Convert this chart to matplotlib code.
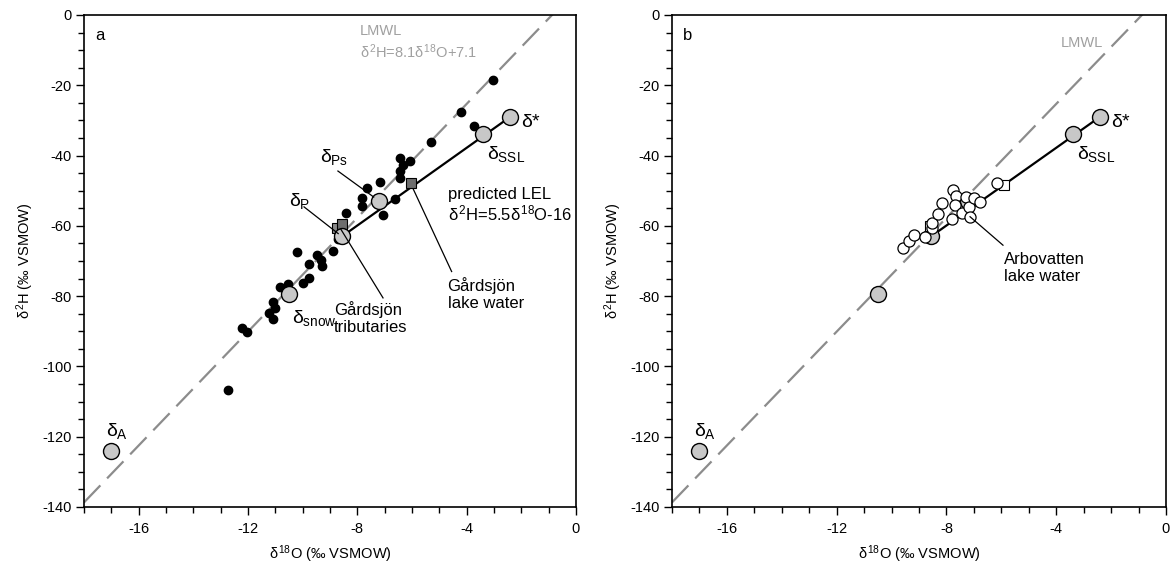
import matplotlib
matplotlib.use("Agg")
import matplotlib.pyplot as plt
from matplotlib.ticker import MultipleLocator
import numpy as np

plt.rcParams['font.family'] = ['Liberation Sans', 'DejaVu Sans']
plt.rcParams['lines.scale_dashes'] = False
plt.rcParams['mathtext.fontset'] = 'custom'
plt.rcParams['mathtext.rm'] = 'Liberation Sans'
plt.rcParams['mathtext.it'] = 'Liberation Sans'

# ---------------- data ----------------
# Gårdsjön tributaries (panel a, black dots)
trib_d18O = [-12.72, -12.23, -12.05, -11.22, -11.07, -11.01, -11.07, -10.83, -10.52,
             -10.19, -10.00, -9.76, -9.76, -9.49, -9.33, -9.30, -8.88, -8.72, -8.41,
             -7.83, -7.83, -7.65, -7.17, -7.06, -6.62, -6.44, -6.07, -6.33, -6.44,
             -6.44, -5.32, -4.22, -3.73, -3.03]
trib_d2H = [-106.7, -89.0, -90.2, -84.9, -86.4, -83.5, -81.6, -77.5, -76.6,
            -67.4, -76.4, -74.9, -70.9, -68.4, -69.7, -71.4, -67.1, -63.8, -56.3,
            -52.1, -54.4, -49.1, -47.5, -56.9, -52.4, -40.7, -41.5, -42.7, -44.4,
            -46.4, -36.0, -27.5, -31.6, -18.5]

# Arbovatten lake water (panel b, open circles)
arbo_d18O = [-9.59, -9.37, -9.19, -8.78, -8.54, -8.54, -8.30, -8.17, -7.77, -7.67,
             -7.70, -7.78, -7.44, -7.30, -7.19, -7.15, -6.99, -6.78, -6.17]
arbo_d2H = [-66.4, -64.2, -62.5, -63.1, -60.7, -59.1, -56.6, -53.5, -49.9, -51.5,
            -54.1, -58.1, -56.2, -51.8, -54.6, -57.5, -52.2, -53.1, -47.9]

# reference isotope end-members
dA = (-17.0, -124.0)
dsnow = (-10.5, -79.5)
dP = (-8.56, -63.0)
dPs = (-7.22, -52.8)
dSSL = (-3.40, -34.0)
dstar = (-2.41, -29.0)

# mean values (squares)
gard_trib = (-8.74, -60.6)
gard_lake = (-6.04, -47.8)
arbo_trib = (-8.6, -60.0)
arbo_lake = (-5.9, -48.3)

# Local meteoric water line
lmwl_slope, lmwl_int = 8.1, 7.1
lmwl_x = [-18.0, 0.0]

xticks = [-16, -12, -8, -4, 0]
yticks = [0, -20, -40, -60, -80, -100, -120, -140]

# ---------------- figure ----------------
fig = plt.figure(figsize=(11.7, 5.67), dpi=100)
ax_a = fig.add_axes([84/1170, 1-507/567, 492/1170, 492/567])
ax_b = fig.add_axes([672/1170, 1-507/567, 494/1170, 492/567])

GRAY_FILL = '#c8c8c8'
DASH_COL = '#8c8c8c'
TXT_GRAY = '#a0a0a0'
FS = 10.5
DFS = 14

for ax in (ax_a, ax_b):
    ax.set_xlim(-18, 0)
    ax.set_ylim(-140, 0)
    ax.xaxis.set_minor_locator(MultipleLocator(1))
    ax.yaxis.set_minor_locator(MultipleLocator(5))
    ax.set_xticks(xticks)
    ax.set_yticks(yticks)
    ax.set_xticklabels([str(v) for v in xticks])
    ax.set_yticklabels([str(v) for v in yticks])
    ax.tick_params(which='both', direction='out', top=False, right=False, labelsize=FS, width=1)
    ax.tick_params(which='major', length=6)
    ax.tick_params(axis='x', which='major', pad=5)
    ax.tick_params(axis='y', which='major', pad=3)
    ax.tick_params(which='minor', length=4)
    for s in ax.spines.values():
        s.set_linewidth(1.2)
    ax.set_xlabel(r'$\delta^{18}$O (‰ VSMOW)', fontsize=FS, labelpad=5)
    ax.set_ylabel(r'$\delta^{2}$H (‰ VSMOW)', fontsize=FS, labelpad=4)
    lx = np.array(lmwl_x)
    ax.plot(lx, lmwl_slope*lx + lmwl_int, color=DASH_COL, lw=1.6, dashes=(17, 7), zorder=1)
    # predicted LEL line from dP to d*
    ax.plot([dP[0], dstar[0]], [dP[1], dstar[1]], color='black', lw=1.6, zorder=2)


def gcirc(ax, p, z=5):
    ax.plot(p[0], p[1], 'o', ms=11.5, mfc=GRAY_FILL, mec='black', mew=1, zorder=z)


def sq(ax, p, fc, z=4):
    ax.plot(p[0], p[1], 's', ms=7.5, mfc=fc, mec='black', mew=0.8, zorder=z)


# ---------------- panel a ----------------
ax = ax_a
ax.plot(trib_d18O, trib_d2H, 'o', ms=6, color='black', zorder=3)
sq(ax, gard_trib, '#8a8a8a', 4)
sq(ax, (gard_trib[0]+0.18, gard_trib[1]+1.1), '#6e6e6e', 4)
sq(ax, gard_lake, '#6e6e6e', 4)
for p in (dA, dsnow, dP, dPs, dSSL, dstar):
    gcirc(ax, p)

ax.text(-17.6, -5.8, 'a', fontsize=12, va='center', ha='left')
ax.text(-7.9, -4.6, 'LMWL', fontsize=FS, color=TXT_GRAY, va='center', ha='left')
ax.text(-7.9, -10.5, r'$\delta^{2}$H=8.1$\delta^{18}$O+7.1', fontsize=FS, color=TXT_GRAY, va='center', ha='left')
ax.text(-2.0, -30.5, r'$\delta$*', fontsize=DFS, va='center', ha='left')
ax.text(-3.25, -39.5, r'$\delta_{\rm SSL}$', fontsize=DFS, va='center', ha='left')
ax.text(-10.4, -86.3, r'$\delta_{\rm snow}$', fontsize=DFS, va='center', ha='left')
ax.text(-17.2, -118.5, r'$\delta_{\rm A}$', fontsize=DFS, va='center', ha='left')
ax.text(-9.35, -40.5, r'$\delta_{\rm Ps}$', fontsize=DFS, va='center', ha='left')
ax.text(-10.5, -53.0, r'$\delta_{\rm P}$', fontsize=DFS, va='center', ha='left')
ax.text(-4.68, -51.2, 'predicted LEL', fontsize=FS+1.5, va='center', ha='left')
ax.text(-4.68, -56.6, r'$\delta^{2}$H=5.5$\delta^{18}$O-16', fontsize=FS+1.5, va='center', ha='left')
ax.text(-4.7, -79.5, 'Gårdsjön\nlake water', fontsize=FS+1.5, va='center', ha='left', linespacing=1.15)
ax.text(-8.85, -86.2, 'Gårdsjön\ntributaries', fontsize=FS+1.5, va='center', ha='left', linespacing=1.15)
# leader lines
ax.plot([-8.71, -7.4], [-44.4, -51.8], color='black', lw=0.9, zorder=6)
ax.plot([-9.95, -8.7], [-54.6, -62.2], color='black', lw=0.9, zorder=6)
ax.plot([-8.6, -7.06], [-61.0, -80.5], color='black', lw=0.9, zorder=6)
ax.plot([-5.95, -4.55], [-49.6, -73.0], color='black', lw=0.9, zorder=6)

# ---------------- panel b ----------------
ax = ax_b
for p in (dA, dsnow, dP, dPs, dSSL, dstar):
    gcirc(ax, p, 3)
sq(ax, arbo_trib, 'white', 3)
sq(ax, arbo_lake, 'white', 3)
ax.plot(arbo_d18O, arbo_d2H, 'o', ms=8, mfc='white', mec='black', mew=0.9, zorder=4)

ax.text(-17.6, -5.8, 'b', fontsize=12, va='center', ha='left')
ax.text(-2.3, -8.0, 'LMWL', fontsize=FS, color=TXT_GRAY, va='center', ha='right')
ax.text(-2.0, -30.5, r'$\delta$*', fontsize=DFS, va='center', ha='left')
ax.text(-3.25, -39.5, r'$\delta_{\rm SSL}$', fontsize=DFS, va='center', ha='left')
ax.text(-17.2, -118.5, r'$\delta_{\rm A}$', fontsize=DFS, va='center', ha='left')
ax.text(-5.9, -72.0, 'Arbovatten\nlake water', fontsize=FS+1.5, va='center', ha='left', linespacing=1.15)
ax.plot([-7.14, -5.94], [-57.4, -65.5], color='black', lw=0.9, zorder=6)

fig.savefig('out.png', dpi=100)
